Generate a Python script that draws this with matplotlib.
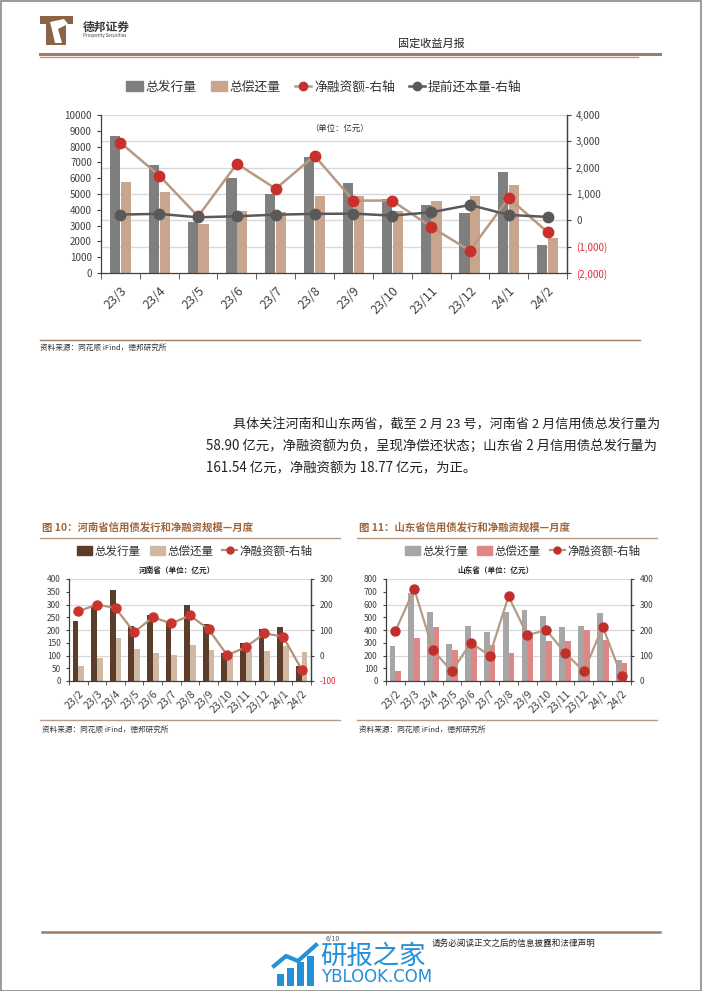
import matplotlib
matplotlib.use('Agg')
import matplotlib.pyplot as plt
from matplotlib.patches import Rectangle, Patch, Polygon
from matplotlib.lines import Line2D
import numpy as np

plt.rcParams['font.family'] = ['Noto Sans CJK SC', 'DejaVu Sans']

# ---------------- data ----------------
months_top = ['23/3', '23/4', '23/5', '23/6', '23/7', '23/8', '23/9', '23/10', '23/11', '23/12', '24/1', '24/2']
issue_top = [8700, 6850, 3250, 6000, 5000, 7350, 5700, 4700, 4300, 3800, 6400, 1750]
repay_top = [5750, 5150, 3100, 3900, 3850, 4900, 4900, 3950, 4550, 4900, 5550, 2200]
net_top = [2950, 1700, 150, 2150, 1200, 2450, 750, 750, -250, -1150, 850, -450]
early_top = [220, 245, 115, 155, 215, 245, 255, 180, 305, 585, 205, 130]

months_bot = ['23/2', '23/3', '23/4', '23/5', '23/6', '23/7', '23/8', '23/9', '23/10', '23/11', '23/12', '24/1', '24/2']
henan_issue = [235, 295, 355, 215, 260, 230, 300, 222, 110, 150, 205, 212, 59]
henan_repay = [60, 91, 167, 125, 109, 103, 141, 120, 108, 116, 117, 138, 114]
henan_net = [173, 200, 186, 91, 150, 126, 157, 103, 1, 33, 87, 74, -55]

sd_issue = [276, 690, 540, 289, 429, 384, 545, 556, 511, 426, 434, 535, 162]
sd_repay = [79, 334, 421, 247, 280, 284, 216, 376, 311, 311, 397, 324, 142]
sd_net = [196, 360, 120, 38, 150, 100, 332, 180, 200, 110, 38, 213, 19]

# ---------------- figure ----------------
W, H = 702, 991
fig = plt.figure(figsize=(W / 100, H / 100), dpi=100)


def fx(x):
    return x / W


def fy(y):
    return 1 - y / H


def ax_px(x0, y0, x1, y1):
    return fig.add_axes([x0 / W, 1 - y1 / H, (x1 - x0) / W, (y1 - y0) / H])


def hline(x0, x1, y, color, lw):
    fig.add_artist(Line2D([fx(x0), fx(x1)], [fy(y), fy(y)], color=color, lw=lw,
                          transform=fig.transFigure))


AXC = '#404040'
GRID = '#d9d9d9'

# page border
fig.add_artist(Rectangle((0.5 / W, 0.5 / H), (W - 1.5) / W, (H - 1.5) / H, fill=False,
                         edgecolor='#8a8a8a', lw=1.2, transform=fig.transFigure))

# ---------------- header ----------------
brown = '#8c6445'
fig.add_artist(Rectangle((fx(40), fy(24)), fx(73) - fx(40), fy(16) - fy(24), color=brown,
                         transform=fig.transFigure, lw=0))
fig.add_artist(Rectangle((fx(46), fy(45)), fx(66) - fx(46), fy(24) - fy(45), color=brown,
                         transform=fig.transFigure, lw=0))
fig.add_artist(Polygon([(fx(50), fy(22)), (fx(64), fy(19)), (fx(68), fy(24)), (fx(58), fy(29)),
                        (fx(62), fy(43)), (fx(55), fy(43)), (fx(52), fy(30))],
                       closed=True, color='white', transform=fig.transFigure, lw=0))
fig.text(fx(83), fy(27), '德邦证券', fontsize=8.5, fontweight='bold', color='#3a3a3a',
         ha='left', va='center')
fig.text(fx(83), fy(36), 'Prosperity Securities', fontsize=3.2, color='#3a3a3a',
         ha='left', va='center')
fig.text(fx(431), fy(44), '固定收益月报', fontsize=8, color='#222222', ha='center', va='center')
hline(40, 660, 53.5, '#a07e66', 2.2)
hline(40, 638, 56.5, '#b89a85', 1.0)

# ---------------- top chart ----------------
C_GRAY = '#7f7f7f'
C_TAN = '#c8a68d'
C_NETLINE = '#b89a84'
C_RED = '#c8302c'
C_DARK = '#595959'

ax = ax_px(101, 115, 567, 273)
x = np.arange(len(months_top))
bw = 0.26
ax.bar(x - 0.14, issue_top, bw, color=C_GRAY, zorder=2)
ax.bar(x + 0.14, repay_top, bw, color=C_TAN, zorder=2)
ax.set_xlim(-0.5, len(months_top) - 0.5)
ax.set_ylim(0, 10000)
ax.set_yticks(range(0, 10001, 1000))
ax.set_yticklabels([str(v) for v in range(0, 10001, 1000)])
r_lo, r_hi = -2000, 4000
for v in range(-1000, 4001, 1000):
    ax.axhline((v - r_lo) / (r_hi - r_lo) * 10000, color=GRID, lw=1.0, zorder=1)
ax.set_xticks(x)
ax.set_xticklabels(months_top, rotation=45, ha='right', va='top', rotation_mode='anchor',
                   fontsize=9, color=AXC)
ax.set_xticks(np.arange(-0.5, len(months_top)), minor=True)
ax.tick_params(axis='x', which='major', length=0, pad=8)
ax.tick_params(axis='x', which='minor', length=4, direction='out', color=AXC)
ax.tick_params(axis='y', labelsize=7, colors=AXC, length=3, direction='out')
for s in ['top']:
    ax.spines[s].set_visible(False)
for s in ['left', 'bottom', 'right']:
    ax.spines[s].set_color(AXC)
    ax.spines[s].set_linewidth(0.9)

ax2 = ax.twinx()
ax2.set_ylim(r_lo, r_hi)
rt = list(range(-2000, 4001, 1000))
ax2.set_yticks(rt)
ax2.set_yticklabels([('({:,})'.format(-v) if v < 0 else '{:,}'.format(v)) for v in rt])
for lab, v in zip(ax2.get_yticklabels(), rt):
    lab.set_color('#e0303a' if v < 0 else AXC)
ax2.tick_params(axis='y', labelsize=7, length=3, direction='out', color=AXC)
for s in ['top', 'left', 'bottom']:
    ax2.spines[s].set_visible(False)
ax2.spines['right'].set_color(AXC)
ax2.spines['right'].set_linewidth(0.9)
ax2.plot(x, net_top, color=C_NETLINE, lw=1.8, marker='o', ms=7.5, mfc=C_RED, mec=C_RED, zorder=3)
ax2.plot(x, early_top, color=C_DARK, lw=1.8, marker='o', ms=7.5, mfc=C_DARK, mec=C_DARK, zorder=4)

fig.text(fx(340), fy(128), '（单位：亿元）', fontsize=6, color='#333333', ha='center', va='center')

handles = [Patch(color=C_GRAY), Patch(color=C_TAN),
           Line2D([], [], color=C_NETLINE, lw=1.8, marker='o', ms=6, mfc=C_RED, mec=C_RED),
           Line2D([], [], color=C_DARK, lw=1.8, marker='o', ms=6, mfc=C_DARK, mec=C_DARK)]
fig.legend(handles, ['总发行量', '总偿还量', '净融资额-右轴', '提前还本量-右轴'],
           loc='center', bbox_to_anchor=(fx(324), fy(87)), ncol=4, frameon=False,
           fontsize=9.2, handlelength=1.3, handleheight=0.8, handletextpad=0.2,
           columnspacing=1.1, labelcolor='#333333')

hline(40, 640, 340, '#a07e66', 1.0)
fig.text(fx(40), fy(348), '资料来源：同花顺 iFind，德邦研究所', fontsize=5.5, color='#333333',
         ha='left', va='center')

# ---------------- body text ----------------
lines = [
    '具体关注河南和山东两省，截至 2 月 23 号，河南省 2 月信用债总发行量为',
    '58.90 亿元，净融资额为负，呈现净偿还状态；山东省 2 月信用债总发行量为',
    '161.54 亿元，净融资额为 18.77 亿元，为正。',
]
renderer = fig.canvas.get_renderer()
probe = fig.text(0, 0, lines[1], fontsize=9)
wpx = probe.get_window_extent(renderer).width
probe.remove()
fs_body = 9 * 452 / wpx
probe = fig.text(0, 0, lines[0], fontsize=fs_body)
w0 = probe.get_window_extent(renderer).width
probe.remove()
fs0 = fs_body * 425 / w0
fig.text(fx(233), fy(424), lines[0], fontsize=fs0, color='#222222', ha='left', va='center')
fig.text(fx(206), fy(446), lines[1], fontsize=fs_body, color='#222222', ha='left', va='center')
fig.text(fx(206), fy(468), lines[2], fontsize=fs_body, color='#222222', ha='left', va='center')


# ---------------- bottom charts ----------------
def small_chart(x0, x1, title, subtitle, cats, iss, rep, net, c_iss, c_rep, c_line, c_mark,
                ylim, ystep, rlim, rstep, neg_red):
    TITLE_C = '#a0673f'
    fig.text(fx(x0 - 27), fy(527), title, fontsize=7.5, fontweight='bold', color=TITLE_C,
             ha='left', va='center')
    hline(x0 - 29, x0 + 271, 537.5, '#b89a85', 1.0)
    axb = ax_px(x0, 579, x1, 681)
    xx = np.arange(len(cats))
    w = 0.31
    axb.bar(xx - w / 2, iss, w, color=c_iss, zorder=2)
    axb.bar(xx + w / 2, rep, w, color=c_rep, zorder=2)
    axb.set_xlim(-0.5, len(cats) - 0.5)
    axb.set_ylim(*ylim)
    lt = list(range(ylim[0], ylim[1] + 1, ystep))
    axb.set_yticks(lt)
    axb.set_yticklabels([str(v) for v in lt])
    for v in range(rlim[0] + rstep, rlim[1] + 1, rstep):
        axb.axhline((v - rlim[0]) / (rlim[1] - rlim[0]) * (ylim[1] - ylim[0]) + ylim[0],
                    color=GRID, lw=0.9, zorder=1)
    axb.set_xticks(xx)
    axb.set_xticklabels(cats, rotation=45, ha='right', va='top', rotation_mode='anchor',
                        fontsize=7.5, color=AXC)
    axb.set_xticks(np.arange(-0.5, len(cats)), minor=True)
    axb.tick_params(axis='x', which='major', length=0, pad=5)
    axb.tick_params(axis='x', which='minor', length=3, direction='out', color=AXC)
    axb.tick_params(axis='y', labelsize=6, colors=AXC, length=2.5, direction='out')
    axb.spines['top'].set_visible(False)
    for s in ['left', 'bottom', 'right']:
        axb.spines[s].set_color(AXC)
        axb.spines[s].set_linewidth(0.9)
    axr = axb.twinx()
    axr.set_ylim(*rlim)
    rtk = list(range(rlim[0], rlim[1] + 1, rstep))
    axr.set_yticks(rtk)
    axr.set_yticklabels([str(v) for v in rtk])
    for lab, v in zip(axr.get_yticklabels(), rtk):
        lab.set_color('#e0303a' if (v < 0 and neg_red) else AXC)
    axr.tick_params(axis='y', labelsize=6, length=2.5, direction='out', color=AXC)
    for s in ['top', 'left', 'bottom']:
        axr.spines[s].set_visible(False)
    axr.spines['right'].set_color(AXC)
    axr.spines['right'].set_linewidth(0.9)
    axr.plot(xx, net, color=c_line, lw=1.6, marker='o', ms=6.5, mfc=c_mark, mec=c_mark, zorder=3)
    cx = (x0 + x1) / 2 + 3
    fig.text(fx(cx - 16), fy(570), subtitle, fontsize=5.5, fontweight='bold', color='#222222',
             ha='center', va='center')
    hs = [Patch(color=c_iss), Patch(color=c_rep),
          Line2D([], [], color=c_line, lw=1.6, marker='o', ms=5, mfc=c_mark, mec=c_mark)]
    fig.legend(hs, ['总发行量', '总偿还量', '净融资额-右轴'], loc='center',
               bbox_to_anchor=(fx(cx + 11 if x0 > 300 else cx + 2), fy(551)), ncol=3,
               frameon=False, fontsize=8.3, handlelength=1.3, handleheight=0.8,
               handletextpad=0.2, columnspacing=0.8, labelcolor='#333333')
    hline(x0 - 29, x0 + 271, 720, '#b89a85', 1.0)
    fig.text(fx(x0 - 27), fy(730), '资料来源：同花顺 iFind，德邦研究所', fontsize=5.5,
             color='#333333', ha='left', va='center')


small_chart(69, 311, '图 10：河南省信用债发行和净融资规模—月度', '河南省（单位：亿元）', months_bot,
            henan_issue, henan_repay, henan_net, '#5c3d2c', '#cfb8a4', '#b5917a', '#c8352f',
            (0, 400), 50, (-100, 300), 100, True)
small_chart(386, 631, '图 11：山东省信用债发行和净融资规模—月度', '山东省（单位：亿元）', months_bot,
            sd_issue, sd_repay, sd_net, '#a6a6a6', '#e08686', '#b59a85', '#c0302b',
            (0, 800), 100, (0, 400), 100, False)

# ---------------- footer ----------------
hline(42, 660, 932, '#a07e66', 1.8)
fig.text(fx(326), fy(938.5), '6/10', fontsize=5, color='#555555', ha='left', va='center')
BLUE = '#2490d8'
for i, (bx, bh) in enumerate([(277, 12), (287, 18), (297, 24), (307, 30)]):
    fig.add_artist(Rectangle((fx(bx), fy(986)), fx(7), fy(986 - bh) - fy(986), color=BLUE,
                             transform=fig.transFigure, lw=0))
fig.add_artist(Line2D([fx(274), fx(286), fx(298), fx(316)], [fy(966), fy(956), fy(961), fy(945)],
                      color=BLUE, lw=3, transform=fig.transFigure))
fig.text(fx(320), fy(956), '研报之家', fontsize=19, color=BLUE, ha='left', va='center')
fig.text(fx(321), fy(977), 'YBLOOK.COM', fontsize=12, color=BLUE, ha='left', va='center',
         family='DejaVu Sans')
fig.text(fx(432), fy(943), '请务必阅读正文之后的信息披露和法律声明', fontsize=6.2, color='#222222',
         ha='left', va='center')

fig.savefig('out.png', dpi=100)
